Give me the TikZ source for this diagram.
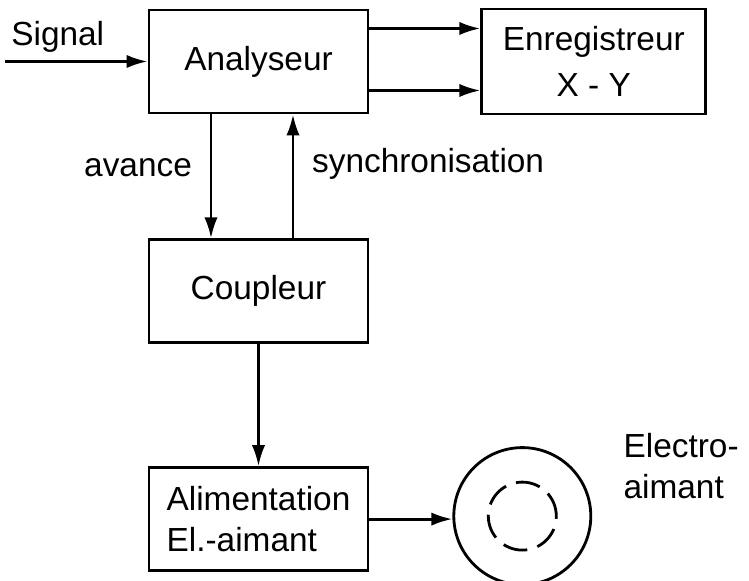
\documentclass[tikz,border=0pt]{standalone}
\usepackage{fontspec}
\setmainfont{Liberation Sans}
\usepackage{tikz}
\usetikzlibrary{arrows.meta,positioning}

\begin{document}
\begin{tikzpicture}[
  font=\fontsize{9.5}{11.9}\selectfont,
  bloc/.style={rectangle, draw, line width=0.8pt, minimum width=2.19cm, minimum height=1.03cm, align=center, inner sep=0pt},
  fleche/.style={-{Latex[length=6pt,width=3.8pt]}, line width=0.8pt},
  aimant/.style={circle, draw, line width=0.8pt, minimum size=1.37cm, inner sep=0pt},
  pointille/.style={line width=0.8pt, dash pattern=on 7pt off 3pt}
]
\useasboundingbox (0,0) rectangle (7.49,5.81);

% blocs
\node[bloc] (ana) at (2.585,5.195) {Analyseur};
\node[bloc, minimum width=2.24cm, minimum height=1.05cm, right=1.11cm of ana] (enr) {Enregistreur\\[1pt]X - Y};
\node[bloc, below=1.24cm of ana] (coup) {Coupleur};
\node[bloc, align=left, below=1.22cm of coup] (ali) {Alimentation\\El.-aimant};
\node[aimant, right=0.83cm of ali, yshift=0.03cm] (mag) {};
\draw[pointille] (mag) circle (0.34cm);
\coordinate (sig) at (0.05,5.195);

% liaisons
\draw[fleche] (sig) -- node[pos=0.37, above=-0.4mm] (lsig) {Signal} (ana.west);
\draw[fleche] ([yshift=3.3mm]ana.east) -- ([yshift=3.3mm]enr.west);
\draw[fleche] ([yshift=-2.9mm]ana.east) -- ([yshift=-2.9mm]enr.west);
\draw[fleche] ([xshift=-4.75mm]ana.south) -- node[pos=0.43, left=0.06cm] (lav) {avance} ([xshift=-4.75mm]coup.north);
\draw[fleche] ([xshift=3.45mm]coup.north) -- node[pos=0.6, right=0.06cm] (lsync) {synchronisation} ([xshift=3.45mm]ana.south);
\draw[fleche] (coup) -- (ali);
\draw[fleche] (ali.east) -- (ali.east -| mag.west);

% legende
\node[align=left, right=0.19cm of mag, yshift=0.5cm] (lmag) {Electro-\\aimant};

\end{tikzpicture}
\end{document}
